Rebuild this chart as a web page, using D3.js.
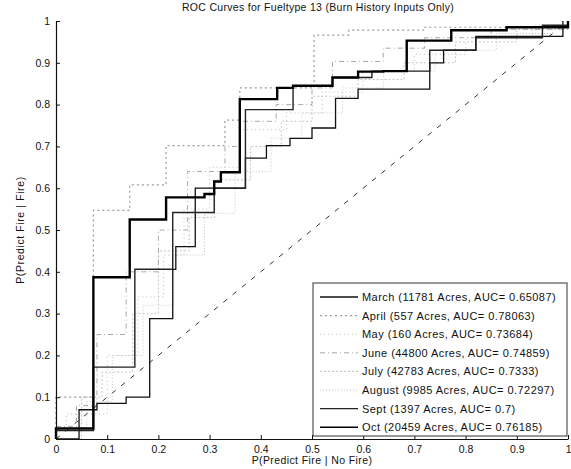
<!DOCTYPE html>
<html><head><meta charset="utf-8">
<script src="https://cdn.jsdelivr.net/npm/d3@7"></script>
<style>
html,body{margin:0;padding:0;background:#fff;}
svg text{font-family:"Liberation Sans",Arial,sans-serif;fill:#111;}
</style></head>
<body><svg id="chart" width="571" height="469"></svg>
<script>
// ---- data (step-after breakpoints: FPR where TPR jumps, TPR level) ----
const seriesNames = ["March (11781 Acres, AUC= 0.65087)","April (557 Acres, AUC= 0.78063)","May (160 Acres, AUC= 0.73684)","June (44800 Acres, AUC= 0.74859)","July (42783 Acres, AUC= 0.7333)","August (9985 Acres, AUC= 0.72297)","Sept (1397 Acres, AUC= 0.7)","Oct (20459 Acres, AUC= 0.76185)"];
const marchX = [0, 0.045, 0.08, 0.137, 0.183, 0.228, 0.234, 0.272, 0.37, 0.411, 0.457, 0.50, 0.546, 0.59, 0.73, 0.757, 0.82, 0.99];
const marchY = [0, 0.07, 0.085, 0.1, 0.288, 0.406, 0.46, 0.6, 0.672, 0.702, 0.719, 0.744, 0.815, 0.837, 0.9, 0.93, 0.963, 1];
const aprilX = [0, 0, 0.073, 0.144, 0.215, 0.33, 0.359, 0.504, 0.572, 0.72, 1];
const aprilY = [0, 0.1, 0.547, 0.608, 0.702, 0.763, 0.84, 0.966, 0.978, 0.985, 1];
const mayX = [0, 0.02, 0.1, 0.16, 0.21, 0.25, 0.3, 0.36, 0.45, 0.52, 0.6, 0.7, 0.8, 0.93, 1];
const mayY = [0.02, 0.06, 0.2, 0.34, 0.44, 0.55, 0.65, 0.74, 0.78, 0.83, 0.88, 0.92, 0.96, 0.99, 1];
const juneX = [0, 0.04, 0.08, 0.137, 0.2, 0.257, 0.33, 0.36, 0.43, 0.5, 0.54, 0.639, 0.72, 0.85, 1];
const juneY = [0.03, 0.08, 0.25, 0.4, 0.5, 0.64, 0.70, 0.76, 0.80, 0.84, 0.903, 0.935, 0.96, 0.98, 1];
const julyX = [0, 0.05, 0.09, 0.15, 0.2, 0.26, 0.31, 0.38, 0.44, 0.5, 0.59, 0.68, 0.78, 0.9, 1];
const julyY = [0, 0.1, 0.16, 0.3, 0.45, 0.53, 0.62, 0.7, 0.76, 0.82, 0.86, 0.9, 0.95, 0.98, 1];
const augustX = [0, 0.06, 0.11, 0.17, 0.23, 0.29, 0.35, 0.42, 0.48, 0.56, 0.64, 0.74, 0.86, 0.97, 1];
const augustY = [0.02, 0.09, 0.2, 0.32, 0.44, 0.54, 0.64, 0.72, 0.78, 0.84, 0.88, 0.93, 0.97, 0.99, 1];
const septX = [0, 0.073, 0.154, 0.228, 0.309, 0.37, 0.463, 0.54, 0.617, 0.73, 0.82, 0.95, 1];
const septY = [0.02, 0.172, 0.406, 0.542, 0.6, 0.788, 0.845, 0.865, 0.88, 0.93, 0.96, 0.99, 1];
const octX = [0, 0, 0.073, 0.144, 0.215, 0.29, 0.309, 0.322, 0.359, 0.432, 0.463, 0.54, 0.59, 0.639, 0.685, 0.772, 0.88, 1];
const octY = [0, 0.025, 0.387, 0.525, 0.578, 0.586, 0.616, 0.638, 0.813, 0.84, 0.845, 0.865, 0.879, 0.88, 0.953, 0.978, 0.985, 1];
const tickValues = [0, 0.1, 0.2, 0.3, 0.4, 0.5, 0.6, 0.7, 0.8, 0.9, 1];
const tickLabels = ["0", "0.1", "0.2", "0.3", "0.4", "0.5", "0.6", "0.7", "0.8", "0.9", "1"];
const chanceX = [0, 1];
const chanceY = [0, 1];

// ---- styles ----
const styles = [
  {color:"#111", width:1.3, dash:null},
  {color:"#9a9a9a", width:1.2, dash:"2,3"},
  {color:"#bdbdbd", width:1, dash:"1,3"},
  {color:"#a8a8a8", width:1, dash:"5,3,1,3"},
  {color:"#c4c4c4", width:1, dash:"2,2"},
  {color:"#c8c8c8", width:1, dash:"1,2"},
  {color:"#222", width:1.4, dash:null},
  {color:"#000", width:2.4, dash:null}
];
const seriesX = [marchX, aprilX, mayX, juneX, julyX, augustX, septX, octX];
const seriesY = [marchY, aprilY, mayY, juneY, julyY, augustY, septY, octY];

const svg = d3.select("#chart");
const m = {left:56, right:568, top:21, bottom:439};
const x = d3.scaleLinear().domain([0,1]).range([m.left, m.right]);
const y = d3.scaleLinear().domain([0,1]).range([m.bottom, m.top]);

// title
svg.append("text").attr("x", 318).attr("y", 11).attr("text-anchor","middle")
  .style("font-size","10.5px").style("letter-spacing","0.3px")
  .text("ROC Curves for Fueltype 13 (Burn History Inputs Only)");

// diagonal chance line
svg.append("path")
  .datum(chanceX.map((d,i)=>[d, chanceY[i]]))
  .attr("d", d3.line().x(d=>x(d[0])).y(d=>y(d[1])))
  .attr("fill","none").attr("stroke","#333").attr("stroke-width",1)
  .attr("stroke-dasharray","5,7");

// curves (faint ones first)
const order = [5,4,2,3,1,0,6,7];
const line = d3.line().x(d=>x(d[0])).y(d=>y(d[1])).curve(d3.curveStepAfter);
order.forEach(i=>{
  const pts = seriesX[i].map((v,j)=>[v, seriesY[i][j]]);
  svg.append("path").datum(pts).attr("d", line)
    .attr("fill","none").attr("stroke", styles[i].color)
    .attr("stroke-width", styles[i].width)
    .attr("stroke-dasharray", styles[i].dash);
});

// axes
const xAxis = d3.axisBottom(x).tickValues(tickValues).tickFormat((d,i)=>tickLabels[i]).tickSizeInner(-4).tickSizeOuter(0).tickPadding(7);
const yAxis = d3.axisLeft(y).tickValues(tickValues).tickFormat((d,i)=>tickLabels[i]).tickSizeInner(-4).tickSizeOuter(0).tickPadding(6);
const gx = svg.append("g").attr("transform",`translate(0,${m.bottom})`).call(xAxis);
const gy = svg.append("g").attr("transform",`translate(${m.left},0)`).call(yAxis);
[gx, gy].forEach(g=>{
  g.selectAll("path.domain").attr("stroke","#111").attr("stroke-width",1.2);
  g.selectAll(".tick line").attr("stroke","#111");
  g.selectAll(".tick text").style("font-size","10.5px").style("font-family","Liberation Sans, Arial, sans-serif").attr("fill","#111");
});
gx.selectAll(".tick text").filter((d,i)=>i===tickValues.length-1).attr("text-anchor","end").attr("dx","3");

// axis labels
svg.append("text").attr("x", 312).attr("y", 464).attr("text-anchor","middle")
  .style("font-size","10.5px").style("letter-spacing","0.4px").text("P(Predict Fire | No Fire)");
svg.append("text").attr("transform","translate(24,230) rotate(-90)").attr("text-anchor","middle")
  .style("font-size","10.5px").style("letter-spacing","0.6px").text("P(Predict Fire | Fire)");

// legend
const lg = svg.append("g");
lg.append("rect").attr("x",313).attr("y",283).attr("width",254).attr("height",153)
  .attr("fill","#fff").attr("stroke","#333").attr("stroke-width",1);
seriesNames.forEach((name,i)=>{
  const yy = 297 + i*18.6;
  lg.append("line").attr("x1",320).attr("x2",358).attr("y1",yy).attr("y2",yy)
    .attr("stroke", styles[i].color).attr("stroke-width", Math.min(styles[i].width,1.6))
    .attr("stroke-dasharray", styles[i].dash);
  lg.append("text").attr("x",362).attr("y",yy+4).style("font-size","11px")
    .style("letter-spacing","0.45px").text(name);
});
</script>
</body></html>
